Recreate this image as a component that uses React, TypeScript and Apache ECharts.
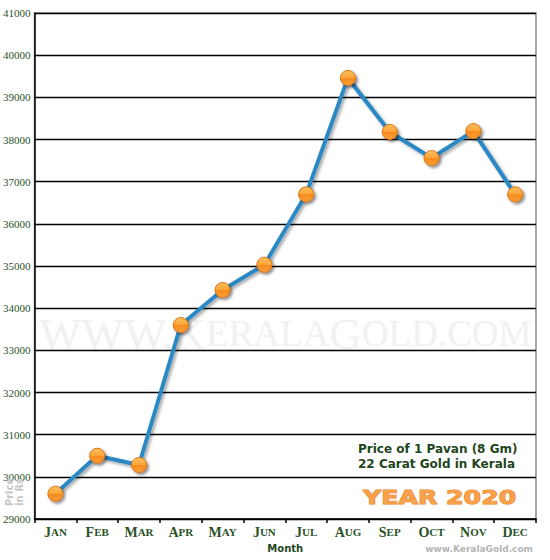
import React, { useEffect, useRef } from "react";
import * as echarts from "echarts";

const months = ["JAN", "FEB", "MAR", "APR", "MAY", "JUN", "JUL", "AUG", "SEP", "OCT", "NOV", "DEC"];
const prices = [29600, 30500, 30280, 33600, 34430, 35030, 36700, 39460, 38180, 37560, 38200, 36700];
const yMin = 29000;
const yMax = 41000;
const yStep = 1000;
const legendLines = ["Price of 1 Pavan (8 Gm)", "22 Carat Gold in Kerala"];
const yearText = "YEAR 2020";
const axisTitleX = "Month";
const axisTitleY = "Price\nin Rs";
const siteText = "www.KeralaGold.com";

const green = "#2a5227";
const serif = '"Liberation Serif", "Times New Roman", serif';
const sans = '"DejaVu Sans", Verdana, sans-serif';

export default function App() {
  const ref = useRef<HTMLDivElement>(null);
  useEffect(() => {
    document.body.style.margin = "0";
    const chart = echarts.init(ref.current!, null, { renderer: "svg" });
    const markerFill = {
      type: "linear", x: 0, y: 0, x2: 0, y2: 1,
      colorStops: [
        { offset: 0, color: "#ffbf5e" },
        { offset: 0.48, color: "#ffa63a" },
        { offset: 0.52, color: "#f78b1c" },
        { offset: 1, color: "#f9a03c" },
      ],
    };
    chart.setOption({
      animation: false,
      backgroundColor: "#ffffff",
      grid: { left: 34, right: 14, top: 13, bottom: 41, show: true, borderColor: "#8a8a8a", borderWidth: 1.5 },
      xAxis: {
        type: "category",
        data: months,
        boundaryGap: true,
        axisLine: { lineStyle: { color: "#000", width: 1.5 } },
        axisTick: { show: true, length: 4, lineStyle: { color: "#000", width: 1.5 } },
        axisLabel: {
          interval: 0,
          margin: 6,
          formatter: (v: string) => `{b|${v[0]}}{s|${v.slice(1)}}`,
          rich: {
            b: { fontFamily: serif, fontWeight: "bold", fontSize: 14, color: green },
            s: { fontFamily: serif, fontWeight: "bold", fontSize: 11, color: green },
          },
        },
        name: axisTitleX,
        nameLocation: "middle",
        nameGap: 23,
        nameTextStyle: { fontFamily: sans, fontWeight: "bold", fontSize: 10, color: "#1e4620" },
      },
      yAxis: {
        type: "value",
        min: yMin,
        max: yMax,
        interval: yStep,
        axisLine: { show: true, lineStyle: { color: "#000", width: 1.5 } },
        axisTick: { show: false },
        axisLabel: { margin: 4, fontFamily: serif, fontSize: 11, color: green, formatter: (v: number) => String(v) },
        splitLine: { show: true, lineStyle: { color: "#000", width: 1.3 } },
      },
      graphic: [
        {
          type: "text",
          x: 39,
          y: 311,
          z: 0,
          silent: true,
          style: {
            text: "{b|WWW.K}{s|ERALA}{b|G}{s|OLD.COM}",
            rich: {
              b: { fontFamily: serif, fontSize: 45, fill: "#f1f1f1" },
              s: { fontFamily: serif, fontSize: 37, fill: "#f1f1f1" },
            },
            verticalAlign: "top",
          },
        },
        {
          type: "text",
          x: 358,
          y: 441,
          z: 10,
          style: {
            text: legendLines.join("\n"),
            font: `bold 12px ${sans}`,
            fill: "#1e4620",
            lineHeight: 15,
          },
        },
        {
          type: "text",
          x: 363,
          y: 487,
          scaleX: 1.26,
          z: 10,
          style: {
            text: yearText,
            font: `bold 20px ${sans}`,
            fill: "#f9a04a",
            stroke: "#e8801c",
            lineWidth: 1,
          },
        },
        {
          type: "text",
          x: 14,
          y: 492,
          rotation: Math.PI / 2,
          z: 10,
          style: {
            text: axisTitleY,
            font: `bold 10px ${sans}`,
            fill: "#c6c6c6",
            align: "center",
            verticalAlign: "middle",
            lineHeight: 10,
          },
        },
        {
          type: "text",
          x: 533,
          y: 549,
          z: 10,
          style: {
            text: siteText,
            font: `bold 9px ${sans}`,
            fill: "#b4b4b4",
            align: "right",
            verticalAlign: "middle",
          },
        },
      ],
      series: [
        {
          type: "line",
          data: prices,
          z: 5,
          symbol: "circle",
          symbolSize: 15,
          lineStyle: {
            color: "#2a88c4",
            width: 4,
            shadowColor: "rgba(0,0,0,0.35)",
            shadowBlur: 3,
            shadowOffsetX: 2,
            shadowOffsetY: 2,
          },
          itemStyle: {
            color: markerFill,
            borderColor: "#dd740f",
            borderWidth: 1,
            shadowColor: "rgba(0,0,0,0.45)",
            shadowBlur: 3,
            shadowOffsetX: 2,
            shadowOffsetY: 2,
          },
        },
      ],
    });
    return () => chart.dispose();
  }, []);
  return <div ref={ref} style={{ width: 550, height: 560 }} />;
}
